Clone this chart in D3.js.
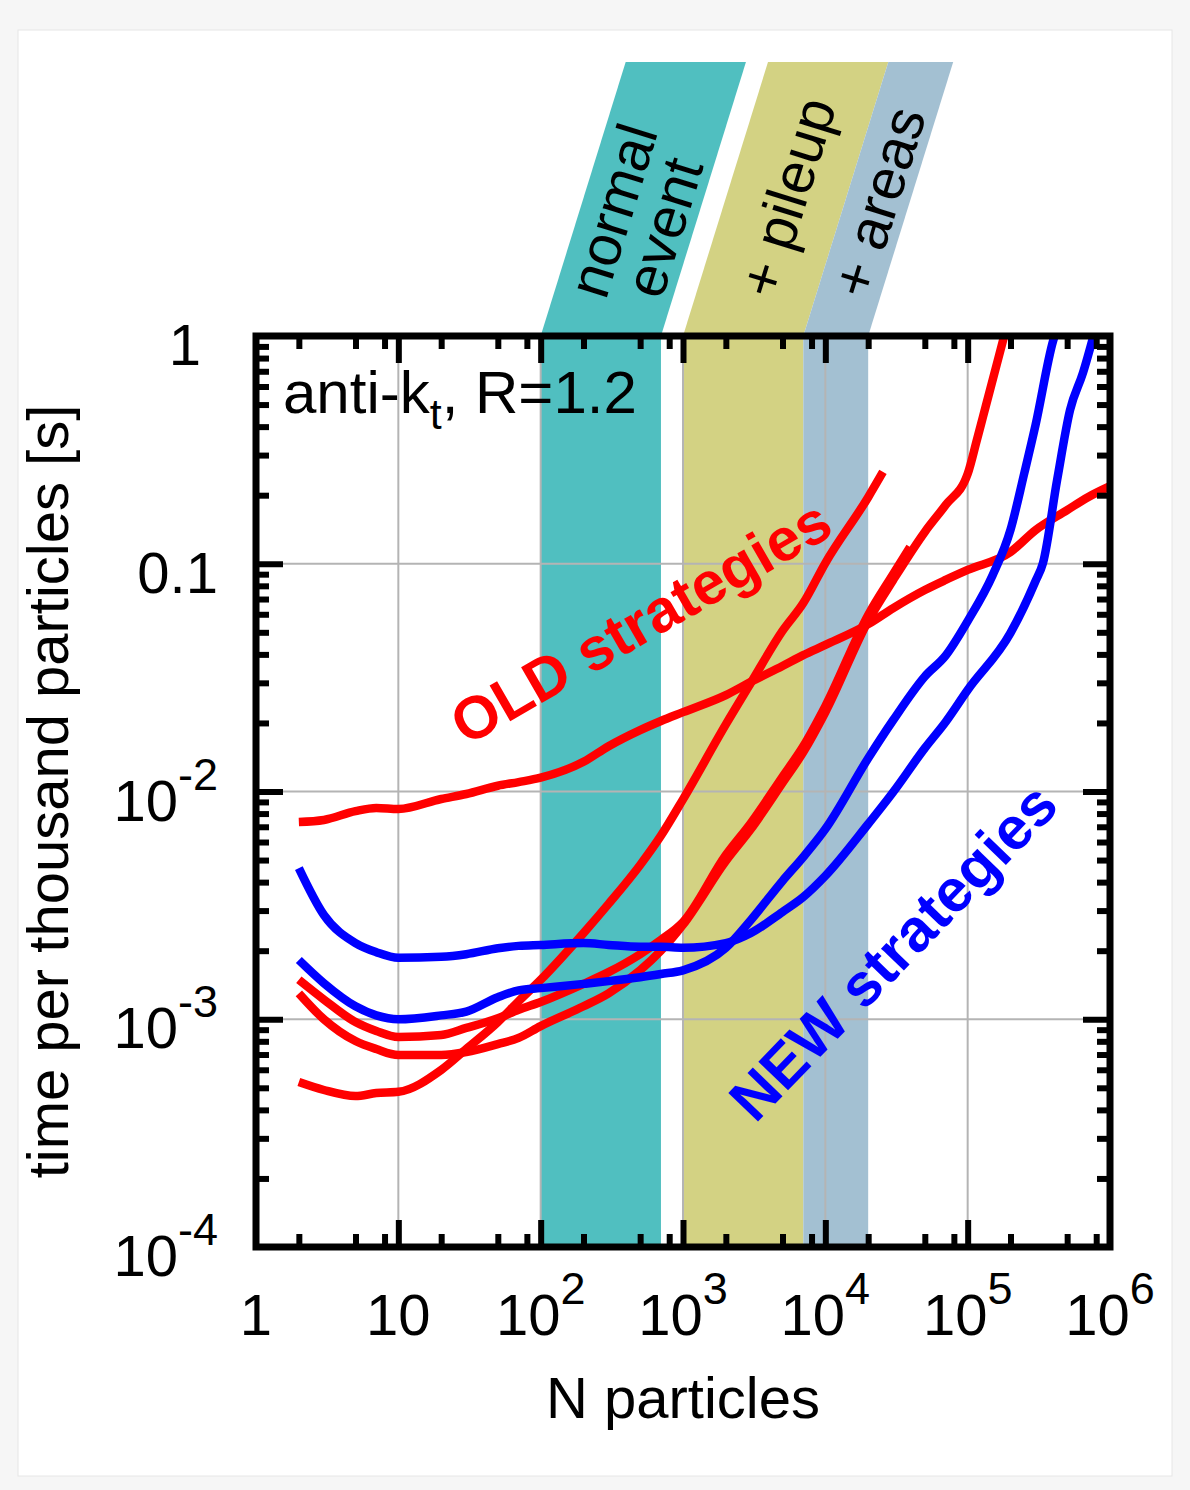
<!DOCTYPE html>
<html lang="en">
<head>
<meta charset="UTF-8">
<script src="https://d3js.org/d3.v7.min.js"></script>
<style>
  body { margin: 0; background: #f6f6f6; }
  svg { display: block; font-family: "Liberation Sans", Arial, sans-serif; }
</style>
</head>
<body>
<svg id="chart" width="1190" height="1490"></svg>
<script>
// shaded N ranges and their labels
const bandRanges = [[100, 700], [1000, 7000], [7000, 20000]];
const bandLabels = [["normal", "event"], ["+ pileup"], ["+ areas"]];
const bandColors = ["#50bfc0", "#d3d283", "#a3c0d2"];

// tick values
const xMajor = [1, 10, 1e2, 1e3, 1e4, 1e5, 1e6];
const xMinorMult = [2, 5, 8];
const yMajor = [1e-4, 1e-3, 1e-2, 0.1, 1];
const yMinorMult = [2, 3, 4, 5, 6, 7, 8, 9];

// curves: [N particles, time per thousand particles (s)]
const oldFlat = [[2,7.35e-3],[3,7.5e-3],[5,8.2e-3],[7,8.47e-3],[10,8.38e-3],[20,9.27e-3],[30,9.75e-3],[50,1.06e-2],[70,1.10e-2],[100,1.15e-2],[200,1.35e-2],[300,1.58e-2],[500,1.86e-2],[700,2.04e-2],[1e3,2.23e-2],[2e3,2.65e-2],[3e3,3.03e-2],[5e3,3.56e-2],[7e3,3.97e-2],[1e4,4.40e-2],[2e4,5.43e-2],[3e4,6.39e-2],[5e4,7.67e-2],[7e4,8.49e-2],[1e5,9.39e-2],[2e5,0.1127],[3e5,0.1406],[5e5,0.172],[7e5,0.196],[1e6,0.219]];
const oldSteep = [[2,5.3e-4],[3,4.89e-4],[5,4.6e-4],[7,4.74e-4],[10,4.8e-4],[20,5.99e-4],[30,7.4e-4],[50,9.72e-4],[70,1.2e-3],[100,1.49e-3],[200,2.39e-3],[300,3.21e-3],[500,4.76e-3],[700,6.4e-3],[1e3,9.24e-3],[2e3,1.97e-2],[3e3,3.0e-2],[5e3,5.07e-2],[7e3,6.72e-2],[1e4,0.1007],[2e4,0.196],[2.54e4,0.253]];
const oldA = [[2,1.49e-3],[3,1.22e-3],[5,9.72e-4],[7,8.88e-4],[10,8.36e-4],[20,8.53e-4],[30,9.16e-4],[50,1.01e-3],[70,1.10e-3],[100,1.19e-3],[200,1.43e-3],[300,1.61e-3],[500,1.93e-3],[700,2.23e-3],[1e3,2.67e-3],[2e3,5.26e-3],[3e3,7.28e-3],[5e3,1.16e-2],[7e3,1.58e-2],[1e4,2.37e-2],[2e4,5.96e-2],[3e4,9.02e-2],[3.94e4,0.1185]];
const oldB = [[2,1.30e-3],[3,1.0e-3],[5,8.02e-4],[7,7.4e-4],[10,6.97e-4],[20,6.97e-4],[30,7.18e-4],[50,7.78e-4],[70,8.28e-4],[100,9.33e-4],[200,1.14e-3],[300,1.30e-3],[500,1.64e-3],[700,2.0e-3],[1e3,2.6e-3],[2e3,4.95e-3],[3e3,6.84e-3],[5e3,1.09e-2],[7e3,1.49e-2],[1e4,2.23e-2],[2e4,5.61e-2],[3e4,8.49e-2],[5e4,0.138],[7e4,0.181],[1e5,0.248],[1.16e5,0.349],[1.28e5,0.441],[1.61e5,0.761],[1.85e5,1.06]];
const newA = [[2,4.61e-3],[3,2.87e-3],[5,2.16e-3],[7,1.97e-3],[10,1.86e-3],[20,1.88e-3],[30,1.93e-3],[50,2.05e-3],[70,2.10e-3],[100,2.12e-3],[200,2.16e-3],[300,2.12e-3],[500,2.08e-3],[700,2.08e-3],[1e3,2.06e-3],[2e3,2.16e-3],[3e3,2.39e-3],[5e3,2.96e-3],[7e3,3.44e-3],[1e4,4.26e-3],[2e4,7.2e-3],[3e4,9.95e-3],[5e4,1.55e-2],[7e4,2.02e-2],[1e5,2.79e-2],[2e5,4.97e-2],[3e5,8.4e-2],[3.38e5,0.1007],[4.25e5,0.233],[5.24e5,0.473],[6.46e5,0.689],[7.85e5,1.06]];
const newB = [[2,1.82e-3],[3,1.44e-3],[5,1.14e-3],[7,1.04e-3],[10,1.0e-3],[20,1.04e-3],[30,1.08e-3],[50,1.25e-3],[70,1.34e-3],[100,1.37e-3],[200,1.43e-3],[300,1.47e-3],[500,1.53e-3],[700,1.58e-3],[1e3,1.64e-3],[2e3,2.06e-3],[3e3,2.73e-3],[5e3,4.05e-3],[7e3,5.16e-3],[1e4,6.84e-3],[2e4,1.40e-2],[3e4,2.06e-2],[5e4,3.2e-2],[7e4,3.95e-2],[1e5,5.6e-2],[1.5e5,8.93e-2],[2e5,0.141],[2.5e5,0.25],[3e5,0.407],[4e5,0.96],[4.3e5,1.1]];

const RED = "#ff0000", BLUE = "#0000ff";
const series = [
    {data: oldFlat, color: RED}, {data: oldSteep, color: RED},
    {data: oldA, color: RED}, {data: oldB, color: RED},
    {data: newA, color: BLUE}, {data: newB, color: BLUE}
];

const svg = d3.select("#chart");
const x = d3.scaleLog().domain([1, 1e6]).range([256, 1110]);
const y = d3.scaleLog().domain([1e-4, 1]).range([1247, 336]);
const [x0, x1] = x.range();
const [yB, yT] = y.range();

// panel
svg.append("rect").attr("x", 18).attr("y", 30).attr("width", 1154).attr("height", 1446)
    .attr("fill", "white").attr("stroke", "#e6e6e6");

svg.append("clipPath").attr("id", "plot").append("rect")
    .attr("x", x0).attr("y", yT).attr("width", x1 - x0).attr("height", yB - yT);

// bands inside the plot and slanted tabs above it
const skew = 85, tabTop = 62;
const angle = Math.atan2(-(yT - tabTop), skew) * 180 / Math.PI;
bandRanges.forEach((b, i) => {
    const a = x(b[0]), c = x(b[1]);
    svg.append("rect").attr("x", a).attr("y", yT).attr("width", c - a).attr("height", yB - yT)
        .attr("fill", bandColors[i]);
    svg.append("polygon")
        .attr("points", [[a, yT], [c, yT], [c + skew, tabTop], [a + skew, tabTop]].join(" "))
        .attr("fill", bandColors[i]);
    const mid = (a + c) / 2 + 33;
    const n = bandLabels[i].length;
    bandLabels[i].forEach((t, j) => {
        const bx = mid + (j - (n - 1) / 2) * 56;
        svg.append("text").attr("transform", `translate(${bx},301) rotate(${angle})`)
            .attr("font-size", 58).text(t);
    });
});

// grid
const grid = svg.append("g").attr("stroke", "#b4b4b4").attr("stroke-width", 2);
grid.selectAll(".gx").data(xMajor.slice(1, -1)).join("line")
    .attr("x1", d => x(d)).attr("x2", d => x(d)).attr("y1", yT).attr("y2", yB);
grid.selectAll(".gy").data(yMajor.slice(1, -1)).join("line")
    .attr("y1", d => y(d)).attr("y2", d => y(d)).attr("x1", x0).attr("x2", x1);

// curves
const line = d3.line().x(d => x(d[0])).y(d => y(d[1])).curve(d3.curveMonotoneX);
svg.append("g").attr("clip-path", "url(#plot)")
    .selectAll("path").data(series).join("path")
    .attr("d", d => line(d.data))
    .attr("fill", "none").attr("stroke", d => d.color)
    .attr("stroke-width", 8.5).attr("stroke-linejoin", "round");

// annotations
svg.append("text").attr("transform", `translate(${x(596)},${y(0.0463)}) rotate(-30)`)
    .attr("text-anchor", "middle").attr("font-size", 60).attr("font-weight", "bold")
    .attr("fill", RED).text("OLD strategies");
svg.append("text").attr("transform", `translate(${x(3.81e4)},${y(1.71e-3)}) rotate(-46)`)
    .attr("text-anchor", "middle").attr("font-size", 60).attr("font-weight", "bold")
    .attr("fill", BLUE).text("NEW strategies");

const alg = svg.append("text").attr("x", 283).attr("y", 413).attr("font-size", 60);
alg.append("tspan").text("anti-k");
alg.append("tspan").attr("font-size", 43).attr("dy", 16).text("t");
alg.append("tspan").attr("dy", -16).text(", R=1.2");

// ticks on all four sides
const xMinor = d3.range(0, 6).flatMap(e => xMinorMult.map(m => m * 10 ** e));
const yMinor = d3.range(-4, 0).flatMap(e => yMinorMult.map(m => m * 10 ** e));
function addAxis(axis, tr, vals, len) {
    const g = svg.append("g").attr("transform", tr)
        .call(axis.tickValues(vals).tickSize(-len).tickFormat(""));
    g.select(".domain").remove();
    g.selectAll(".tick line").attr("stroke", "black").attr("stroke-width", 6);
}
[[27, xMajor.slice(1, -1), yMajor.slice(1, -1)], [13, xMinor, yMinor]].forEach(([len, xv, yv]) => {
    addAxis(d3.axisBottom(x), `translate(0,${yB})`, xv, len);
    addAxis(d3.axisTop(x), `translate(0,${yT})`, xv, len);
    addAxis(d3.axisLeft(y), `translate(${x0},0)`, yv, len);
    addAxis(d3.axisRight(y), `translate(${x1},0)`, yv, len);
});

svg.append("rect").attr("x", x0).attr("y", yT).attr("width", x1 - x0).attr("height", yB - yT)
    .attr("fill", "none").attr("stroke", "black").attr("stroke-width", 7);

// tick labels
function powLabel(sel, v) {
    const e = Math.round(Math.log10(v));
    if (e === 0) sel.text("1");
    else if (e === 1) sel.text("10");
    else if (e === -1) sel.text("0.1");
    else {
        sel.append("tspan").text("10");
        sel.append("tspan").attr("font-size", 45).attr("dy", -31).text(e);
    }
}
xMajor.forEach(v => {
    svg.append("text").attr("x", x(v)).attr("y", 1335).attr("text-anchor", "middle")
        .attr("font-size", 58).call(powLabel, v);
});
yMajor.forEach(v => {
    svg.append("text").attr("x", v === 1 ? 201 : 218).attr("y", y(v) + 29).attr("text-anchor", "end")
        .attr("font-size", 58).call(powLabel, v);
});

// axis titles
svg.append("text").attr("x", (x0 + x1) / 2).attr("y", 1418).attr("text-anchor", "middle")
    .attr("font-size", 58).text("N particles");
svg.append("text").attr("transform", `translate(68,${(yT + yB) / 2}) rotate(-90)`)
    .attr("text-anchor", "middle").attr("font-size", 58).text("time per thousand particles [s]");
</script>
</body>
</html>
